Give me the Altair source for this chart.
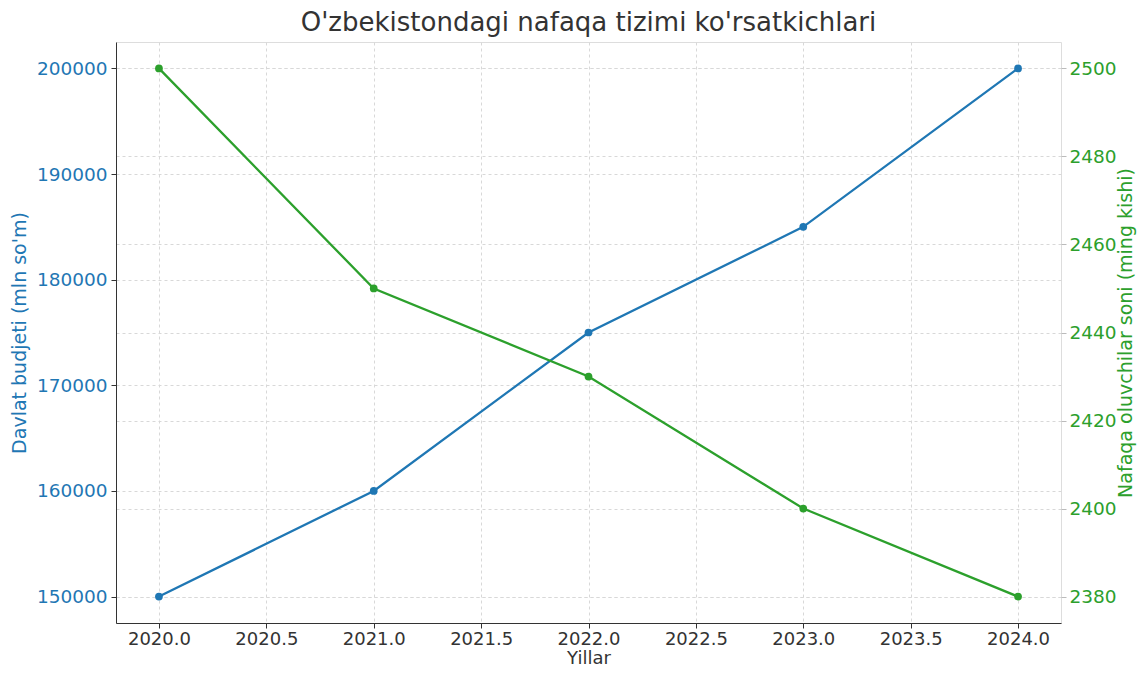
import altair as alt
import pandas as pd

years = [2020, 2021, 2022, 2023, 2024]
budget = [150000, 160000, 175000, 185000, 200000]
pensioners = [2500, 2450, 2430, 2400, 2380]

x_ticks = [2020.0, 2020.5, 2021.0, 2021.5, 2022.0, 2022.5, 2023.0, 2023.5, 2024.0]
left_ticks = [150000, 160000, 170000, 180000, 190000, 200000]
right_ticks = [2380, 2400, 2420, 2440, 2460, 2480, 2500]

df = pd.DataFrame({"Yil": years, "Byudjet": budget, "Nafaqa": pensioners})

BLUE = "#1f77b4"
GREEN = "#2ca02c"
FONT = "DejaVu Sans"
GRID = "#d8d8d8"

x_enc = alt.X(
    "Yil:Q",
    scale=alt.Scale(domain=[2019.8, 2024.2], nice=False, zero=False),
    axis=alt.Axis(
        values=x_ticks, format=".1f", title="Yillar", grid=True,
        gridDash=[3, 3], gridColor=GRID, domainColor="#333", tickColor="#333",
        labelColor="#333", titleColor="#333", labelFontSize=18, titleFontSize=18,
        titleFontWeight="normal", labelFont=FONT, titleFont=FONT,
        tickSize=5, labelPadding=2, titlePadding=1, labelFlush=False,
    ),
)

base = alt.Chart(df)

left = base.mark_line(color=BLUE, strokeWidth=2.3, point=alt.OverlayMarkDef(color=BLUE, size=60, filled=True, opacity=1)).encode(
    x=x_enc,
    y=alt.Y(
        "Byudjet:Q",
        scale=alt.Scale(domain=[147500, 202500], nice=False, zero=False),
        axis=alt.Axis(
            orient="left", values=left_ticks, format="d", title="Davlat budjeti (mln so'm)",
            grid=True, gridDash=[3, 3], gridColor=GRID, domainColor="#333", tickColor="#333",
            labelColor=BLUE, titleColor=BLUE, labelFontSize=18.5, titleFontSize=19,
            titleFontWeight="normal", labelFont=FONT, titleFont=FONT, tickSize=5,
            labelPadding=4, titlePadding=7, labelFlush=False,
        ),
    ),
)

right = base.mark_line(color=GREEN, strokeWidth=2.3, point=alt.OverlayMarkDef(color=GREEN, size=60, filled=True, opacity=1)).encode(
    x=x_enc,
    y=alt.Y(
        "Nafaqa:Q",
        scale=alt.Scale(domain=[2374, 2506], nice=False, zero=False),
        axis=alt.Axis(
            orient="right", values=right_ticks, format="d", title="Nafaqa oluvchilar soni (ming kishi)",
            grid=True, gridDash=[3, 3], gridColor=GRID, domain=False, tickColor="#bbbbbb",
            labelColor=GREEN, titleColor=GREEN, labelFontSize=18.5, titleFontSize=19,
            titleFontWeight="normal", labelFont=FONT, titleFont=FONT, tickSize=5,
            labelPadding=3, titlePadding=0, titleAngle=270, titleBaseline="top",
            labelFlush=False,
        ),
    ),
)

chart = alt.layer(left, right).resolve_scale(y="independent").properties(
    width=945,
    height=581,
    autosize=alt.AutoSizeParams(type="none"),
    padding={"left": 108, "top": 34, "right": 76, "bottom": 44},
    title=alt.TitleParams(
        "O'zbekistondagi nafaqa tizimi ko'rsatkichlari",
        fontSize=26, font=FONT, fontWeight="normal", color="#333", offset=6,
    ),
).configure_view(stroke=None).configure(background="white")

chart.save("out.html", embed_options={"renderer": "svg", "actions": False})
